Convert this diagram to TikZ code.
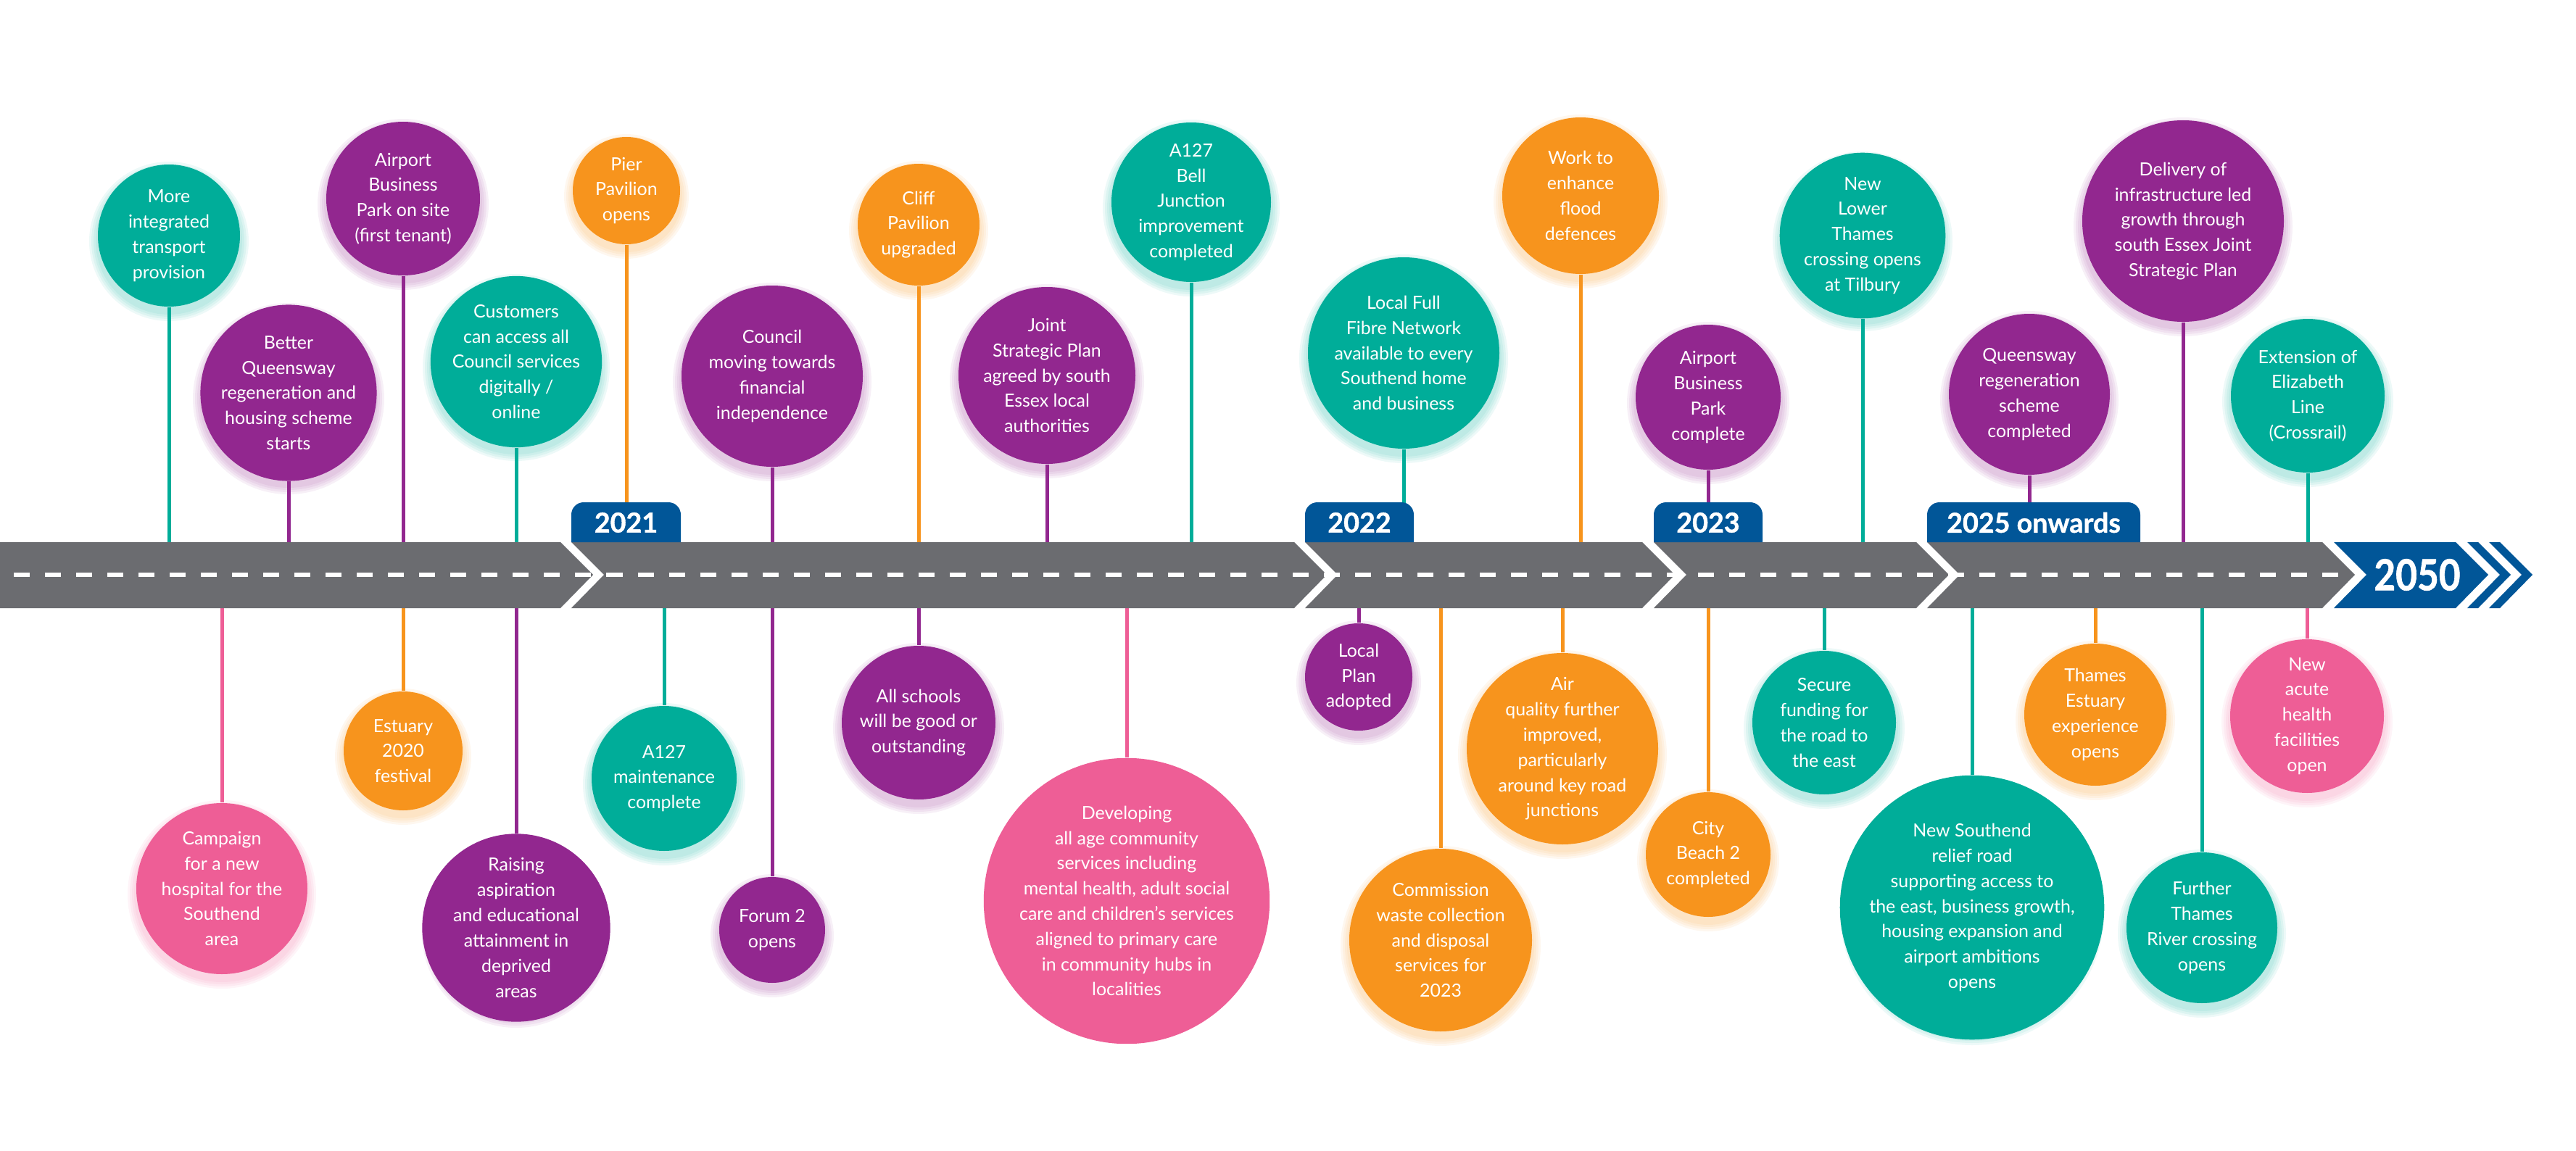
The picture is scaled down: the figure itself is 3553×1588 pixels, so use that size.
\documentclass[tikz,border=0pt]{standalone}
\usepackage{fontspec}
\setmainfont{Lato}
\newfontfamily\yearfont{Lato}[BoldFeatures={FakeBold=1.2}]

\definecolor{goalteal}{RGB}{0,173,153}
\definecolor{goalpurple}{RGB}{146,39,143}
\definecolor{goalorange}{RGB}{247,148,29}
\definecolor{goalpink}{RGB}{238,94,150}
\definecolor{yearblue}{RGB}{1,86,152}
\definecolor{roadgrey}{RGB}{107,108,112}

\tikzset{
  goal/.style={circle, fill=#1, text=white, align=center, inner sep=0pt,
    font=\fontsize{7.1}{9.9}\selectfont},
  stalk/.style={draw=#1, line width=0.05cm},
  glow/.style={fill=#1, opacity=.07},
  yeartext/.style={text=white, font=\yearfont\fontsize{10.7}{12}\selectfont\bfseries},
}

\begin{document}
\begin{tikzpicture}[x=0.01cm, y=-0.01cm]
    \useasboundingbox (0,0) rectangle (3553,1588);

    \def\rtop{748}
    \def\rmid{793}
    \def\rbot{839}

    % above the road
    \foreach \nm/\px/\py/\rad/\col/\txt in {
      a1/233/325/98/goalteal/{More\\integrated\\transport\\provision},
      a2/398/542/120/goalpurple/{Better\\Queensway\\regeneration and\\housing scheme\\starts},
      a3/556/274/106/goalpurple/{Airport\\Business\\Park on site\\(first tenant)},
      a4/712/499/117/goalteal/{Customers\\can access all\\Council services\\digitally /\\online},
      a5/864/263/74/goalorange/{Pier\\Pavilion\\opens},
      a6/1065/519/125/goalpurple/{Council\\moving towards\\financial\\independence},
      a7/1267/310/84/goalorange/{Cliff\\Pavilion\\upgraded},
      a8/1444/518/122/goalpurple/{Joint\\Strategic Plan\\agreed by south\\Essex local\\authorities},
      a9/1643/279/110/goalteal/{A127\\Bell\\Junction\\improvement\\completed},
      a10/1936/487/132/goalteal/{Local Full\\Fibre Network\\available to every\\Southend home\\and business},
      a11/2180/270/108/goalorange/{Work to\\enhance\\flood\\defences},
      a12/2356/548/100/goalpurple/{Airport\\Business\\Park\\complete},
      a13/2569/325/112/goalteal/{New\\Lower\\Thames\\crossing opens\\at Tilbury},
      a14/2799/544/111/goalpurple/{Queensway\\regeneration\\scheme\\completed},
      a15/3011/305/139/goalpurple/{Delivery of\\infrastructure led\\growth through\\south Essex Joint\\Strategic Plan},
      a16/3183/546/106/goalteal/{Extension of\\Elizabeth\\Line\\(Crossrail)}} {
        \foreach \k in {3,6,9,12}
          \fill[glow=\col] (\px,\py+8) circle[radius={(\rad+\k)*0.01cm}];
        \coordinate (\nm r) at (\px,\rtop);
        \node[goal=\col, minimum size=2*\rad*0.01cm] (\nm) at (\px,\py) {\txt};
        \draw[stalk=\col] (\nm) -- (\nm r);
    }

    % below the road
    \foreach \nm/\px/\py/\rad/\col/\txt in {
      b1/306/1226/118/goalpink/{Campaign\\for a new\\hospital for the\\Southend\\area},
      b2/556/1036/82/goalorange/{Estuary\\2020\\festival},
      b3/712/1280/118/goalpurple/{Raising\\aspiration\\and educational\\attainment in\\deprived\\areas},
      b4/916/1074/100/goalteal/{A127\\maintenance\\complete},
      b5/1065/1283/73/goalpurple/{Forum 2\\opens},
      b6/1267/997/106/goalpurple/{All schools\\will be good or\\outstanding},
      b7/1554/1243/177/goalpink/{Developing\\all age community\\services including\\mental health, adult social\\care and children’s services\\aligned to primary care\\in community hubs in\\localities},
      b8/1874/934/74/goalpurple/{Local\\Plan\\adopted},
      b9/1987/1297/126/goalorange/{Commission\\waste collection\\and disposal\\services for\\2023},
      b10/2155/1033/132/goalorange/{Air\\quality further\\improved,\\particularly\\around key road\\junctions},
      b11/2356/1179/86/goalorange/{City\\Beach 2\\completed},
      b12/2516/997/99/goalteal/{Secure\\funding for\\the road to\\the east},
      b13/2720/1252/170/goalteal/{New Southend\\relief road\\supporting access to\\the east, business growth,\\housing expansion and\\airport ambitions\\opens},
      b14/2890/986/98/goalorange/{Thames\\Estuary\\experience\\opens},
      b15/3037/1280/104/goalteal/{Further\\Thames\\River crossing\\opens},
      b16/3182/988/106/goalpink/{New\\acute\\health\\facilities\\open}} {
        \foreach \k in {3,6,9,12}
          \fill[glow=\col] (\px,\py+8) circle[radius={(\rad+\k)*0.01cm}];
        \coordinate (\nm r) at (\px,\rbot);
        \node[goal=\col, minimum size=2*\rad*0.01cm] (\nm) at (\px,\py) {\txt};
        \draw[stalk=\col] (\nm r) -- (\nm);
    }

    % road
    \fill[roadgrey] (0,\rtop) -- (773,\rtop) -- (818,\rmid) -- (773,\rbot) -- (0,\rbot) -- cycle;
    \foreach \a/\b in {788/1785, 1800/2265, 2281/2643, 2658/3203}
      \fill[roadgrey] (\a,\rtop) -- (\b,\rtop) -- (\b+45,\rmid) -- (\b,\rbot) -- (\a,\rbot) -- (\a+45,\rmid) -- cycle;
    \draw[white, line width=0.06cm, dash pattern=on 0.22cm off 0.21cm] (19,\rmid) -- (3245,\rmid);

    \fill[yearblue] (3219,\rtop) -- (3387,\rtop) -- (3432,\rmid) -- (3387,\rbot) -- (3219,\rbot) -- (3264,\rmid) -- cycle;
    \foreach \a in {3403,3433}
      \fill[yearblue] (\a,\rtop) -- (\a+15,\rtop) -- (\a+60,\rmid) -- (\a+15,\rbot) -- (\a,\rbot) -- (\a+45,\rmid) -- cycle;
    \node[text=white, font=\yearfont\fontsize{16.8}{18}\selectfont\bfseries, xscale=.87] (y2050) at (3334,\rmid) {2050};

    % year tabs
    \foreach \nm/\a/\b/\txt in {y2021/788/939/2021, y2022/1800/1950/2022, y2023/2281/2431/2023, y2025/2658/2952/2025 onwards} {
      \fill[yearblue] (\a,\rtop) [rounded corners=0.17cm] -- (\a,693) -- (\b,693) [sharp corners] -- (\b,\rtop) -- cycle;
      \node[yeartext] (\nm) at ({(\a+\b)/2},721) {\txt};
    }

\end{tikzpicture}
\end{document}
